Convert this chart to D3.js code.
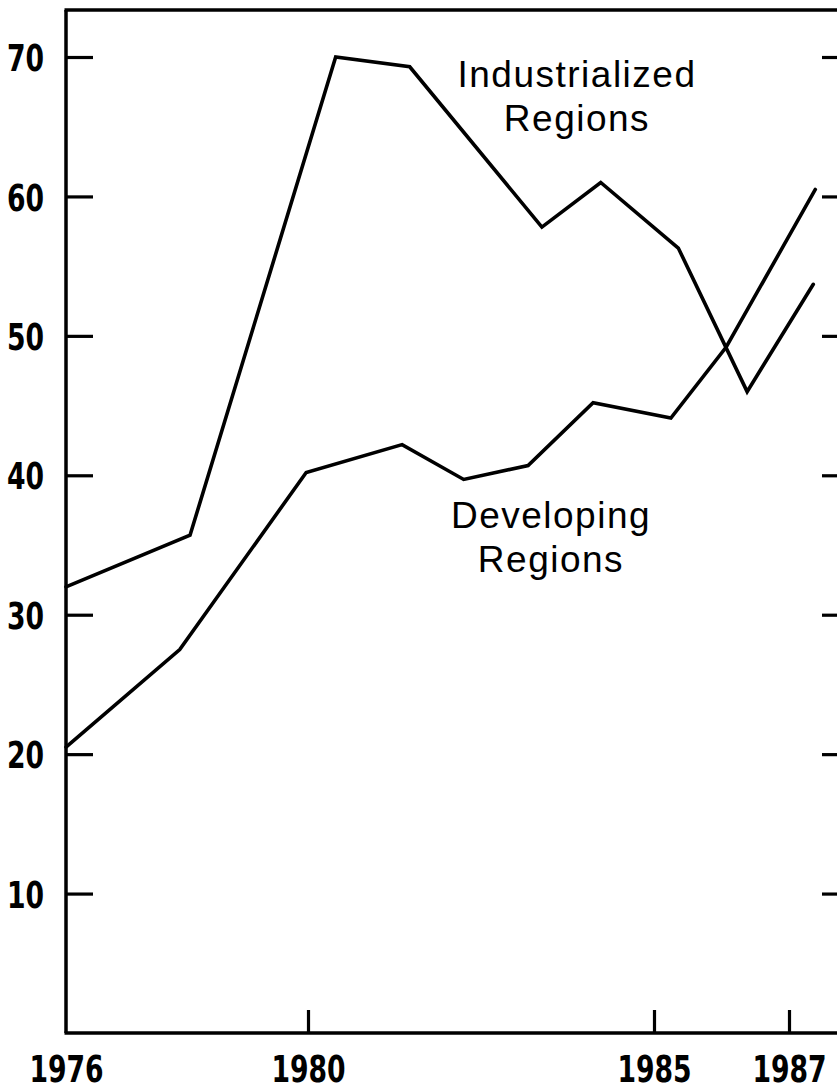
<!DOCTYPE html>
<html>
<head>
<meta charset="utf-8">
<script src="https://cdn.jsdelivr.net/npm/d3@7"></script>
<style>
  html, body { margin: 0; padding: 0; background: #fff; }
  svg { display: block; }
</style>
</head>
<body>
<svg id="chart" width="837" height="1091"></svg>
<script>
// ---- data ----
const tickYears = [1976, 1980, 1985, 1987];
const yTicks = [10, 20, 30, 40, 50, 60, 70];

const industrializedYears  = [1976, 1978.05, 1980.40, 1981.47, 1983.38, 1984.23, 1985.36, 1986.38, 1987.36];
const industrializedValues = [32.0, 35.7, 70.0, 69.3, 57.8, 61.0, 56.3, 46.0, 53.7];

const developingYears  = [1976, 1977.88, 1979.97, 1981.36, 1982.25, 1983.18, 1984.12, 1985.25, 1986.07, 1987.39];
const developingValues = [20.5, 27.5, 40.2, 42.2, 39.7, 40.7, 45.2, 44.1, 49.2, 60.5];

const labels = [
  { lines: ["Industrialized", "Regions"], x: 577, y: 87 },
  { lines: ["Developing", "Regions"], x: 551, y: 528 }
];

(function () {
// ---- layout ----
const svg = d3.select("#chart");
const mLeft = 66, mRight = 848, mTop = 10, mBottom = 1033;

const x = d3.scaleLinear().domain(tickYears).range([66, 308, 654, 789]);
const y = d3.scaleLinear().domain([0, 70]).range([mBottom, 57]);

const tickFont = "'DejaVu Sans Condensed', 'DejaVu Sans', sans-serif";
const sx = 0.78; // horizontal squeeze of tick labels

// frame top
svg.append("line").attr("x1", mLeft - 1.5).attr("x2", mRight).attr("y1", mTop).attr("y2", mTop)
  .attr("stroke", "#000").attr("stroke-width", 3.5);

// left axis
const gl = svg.append("g").attr("transform", `translate(${mLeft},0)`)
  .call(d3.axisLeft(y).tickValues(yTicks).tickSize(-27).tickSizeOuter(0).tickPadding(22).tickFormat(d3.format("d")));
gl.select(".domain").attr("d", `M0,${mTop}V${mBottom}`);

// right axis
const gr = svg.append("g").attr("transform", `translate(${mRight},0)`)
  .call(d3.axisRight(y).tickValues(yTicks).tickSize(-26).tickSizeOuter(0).tickFormat(""));
gr.select(".domain").attr("d", `M0,${mTop}V${mBottom}`);

// bottom axis
const gb = svg.append("g").attr("transform", `translate(0,${mBottom})`)
  .call(d3.axisBottom(x).tickValues(tickYears).tickSize(-23).tickSizeOuter(0).tickPadding(22).tickFormat(d3.format("d")));
gb.select(".domain").attr("d", `M${mLeft - 1.5},0H${mRight}`);
gb.selectAll(".tick").filter(d => d === 1976).select("line").remove();

svg.selectAll(".domain").attr("stroke", "#000").attr("stroke-width", 3.5);
svg.selectAll(".tick line").attr("stroke", "#000").attr("stroke-width", 3.2);
svg.selectAll(".tick text")
  .attr("fill", "#000")
  .style("font-family", tickFont)
  .style("font-weight", "bold")
  .style("font-size", "38px");
gl.selectAll(".tick text").attr("dy", "0.36em").attr("x", -22 / sx).attr("transform", `scale(${sx},1)`);
gb.selectAll(".tick text").attr("dy", "0.71em").attr("transform", `scale(${sx},1)`);

// lines
const line = d3.line().x(d => x(d[0])).y(d => y(d[1]));
const series = [
  d3.zip(industrializedYears, industrializedValues),
  d3.zip(developingYears, developingValues)
];
svg.append("g").selectAll("path").data(series).join("path")
  .attr("d", line)
  .attr("fill", "none")
  .attr("stroke", "#000")
  .attr("stroke-width", 3.6)
  .attr("stroke-linejoin", "miter")
  .attr("stroke-linecap", "round");

// annotations
labels.forEach(l => {
  const t = svg.append("text")
    .attr("x", l.x).attr("y", l.y)
    .attr("text-anchor", "middle")
    .style("font-family", "'Liberation Sans', 'DejaVu Sans', sans-serif")
    .style("font-size", "37px")
    .style("letter-spacing", "1.5px")
    .attr("fill", "#000");
  l.lines.forEach((s, i) => {
    t.append("tspan").attr("x", l.x).attr("dy", i === 0 ? 0 : 44).text(s);
  });
});
})();
</script>
</body>
</html>
